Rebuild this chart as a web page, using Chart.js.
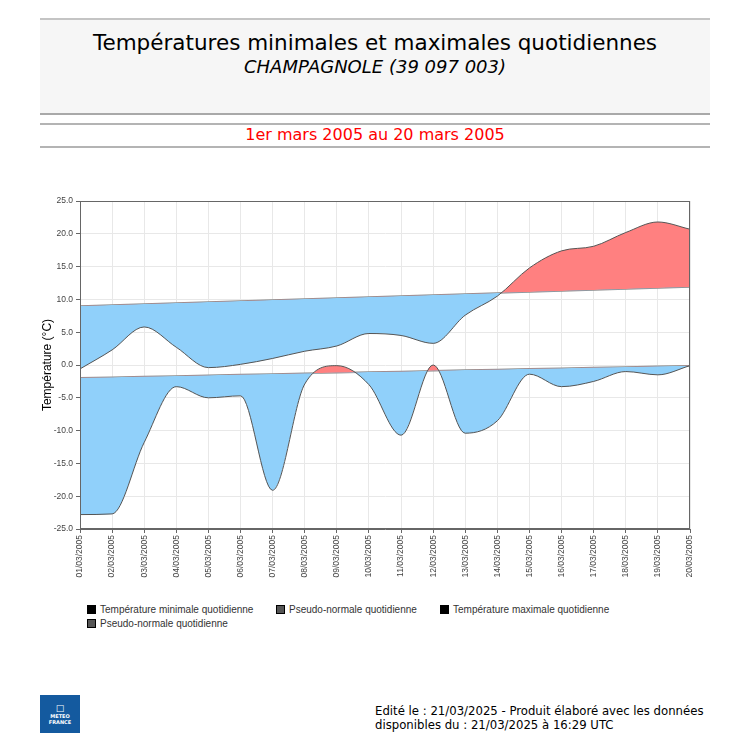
<!DOCTYPE html>
<html><head><meta charset="utf-8">
<script src="https://cdn.jsdelivr.net/npm/chart.js@4.4.1/dist/chart.umd.min.js"></script>
<style>
html,body{margin:0;padding:0;background:#fff;}
body{width:750px;height:750px;position:relative;overflow:hidden;font-family:"DejaVu Sans",sans-serif;}
.abs{position:absolute;}
#hdr{left:40px;top:18px;width:670px;height:93px;background:#f6f6f6;border-top:2px solid #c4c4c4;border-bottom:2px solid #a9a9a9;}
.line{left:40px;width:670px;height:0;border-top:2px solid #b4b4b4;}
.ctr{left:0;width:750px;text-align:center;white-space:nowrap;}
#t1{top:30px;font-size:21.5px;line-height:25px;color:#000;}
#t2{top:56px;font-size:18px;line-height:21px;font-style:italic;color:#000;}
#t3{top:125px;font-size:16px;line-height:19px;color:#ff0000;}
#wrap{left:0;top:190px;width:720px;height:400px;}
.leg{font-family:"Liberation Sans",Arial,sans-serif;font-size:10px;line-height:12px;color:#333;white-space:nowrap;}
.leg i{display:inline-block;width:7px;height:7px;border:1px solid #000;margin-right:4px;vertical-align:-1px;}
#foot{left:375px;top:704px;font-family:"DejaVu Sans Condensed","DejaVu Sans",sans-serif;font-stretch:condensed;font-size:13px;line-height:14px;color:#000;white-space:nowrap;}
#logo{left:40px;top:695px;width:40px;height:38px;background:#145a9f;color:#fff;font-family:"DejaVu Sans",sans-serif;font-weight:bold;font-size:5px;line-height:6px;text-align:center;}
</style>
</head><body>
<div id="hdr" class="abs"></div>
<div id="t1" class="abs ctr">Températures minimales et maximales quotidiennes</div>
<div id="t2" class="abs ctr">CHAMPAGNOLE (39 097 003)</div>
<div class="abs line" style="top:123px"></div>
<div id="t3" class="abs ctr">1er mars 2005 au 20 mars 2005</div>
<div class="abs line" style="top:146px"></div>
<div id="wrap" class="abs"><canvas id="c" width="720" height="400" style="width:720px;height:400px"></canvas></div>
<div class="abs leg" style="left:87px;top:604px"><i style="background:#000"></i>Température minimale quotidienne</div>
<div class="abs leg" style="left:276px;top:604px"><i style="background:#555"></i>Pseudo-normale quotidienne</div>
<div class="abs leg" style="left:440px;top:604px"><i style="background:#000"></i>Température maximale quotidienne</div>
<div class="abs leg" style="left:87px;top:618px"><i style="background:#555"></i>Pseudo-normale quotidienne</div>
<div id="logo" class="abs"><div style="height:9px"></div><div style="font-size:9px;line-height:9px">&#9633;</div>METEO<br>FRANCE</div>
<div id="foot" class="abs">Edité le : 21/03/2025 - Produit élaboré avec les données<br>disponibles du : 21/03/2025 à 16:29 UTC</div>
<script>
const categories = ['01/03/2005','02/03/2005','03/03/2005','04/03/2005','05/03/2005','06/03/2005','07/03/2005','08/03/2005','09/03/2005','10/03/2005','11/03/2005','12/03/2005','13/03/2005','14/03/2005','15/03/2005','16/03/2005','17/03/2005','18/03/2005','19/03/2005','20/03/2005'];
const tempMin = [-22.8,-22.7,-11.8,-3.3,-5.0,-4.7,-19.1,-2.9,-0.1,-3.0,-10.7,0.0,-10.4,-8.5,-1.4,-3.3,-2.5,-1.0,-1.5,-0.1];
const normMin = [-1.95,-1.85,-1.76,-1.66,-1.56,-1.46,-1.37,-1.27,-1.17,-1.08,-0.98,-0.88,-0.78,-0.69,-0.59,-0.49,-0.40,-0.30,-0.20,-0.10];
const tempMax = [-0.6,2.3,5.8,2.7,-0.4,0.1,1.0,2.1,2.9,4.8,4.5,3.3,7.6,10.5,14.8,17.4,18.1,20.2,21.8,20.7];
const normMax = [9.0,9.15,9.31,9.46,9.61,9.76,9.92,10.07,10.22,10.37,10.53,10.68,10.83,10.98,11.14,11.29,11.44,11.59,11.75,11.9];
const yTickValues = [-25,-20,-15,-10,-5,0,5,10,15,20,25];

const RED = 'rgb(255,128,128)';
const BLUE = 'rgb(144,208,250)';
const tickFont = {family:'"Liberation Sans", Arial, sans-serif', size:8.5};

const frame = {
  id:'frame',
  afterDatasetsDraw(c){
    const {ctx, chartArea:a} = c;
    ctx.save();
    ctx.strokeStyle = '#666';
    ctx.lineWidth = 1;
    ctx.strokeRect(Math.round(a.left)+0.5, Math.round(a.top)+0.5, Math.round(a.right-a.left)-1, Math.round(a.bottom-a.top)-1);
    ctx.restore();
  }
};

new Chart(document.getElementById('c'), {
  type:'line',
  data:{
    labels:categories,
    datasets:[
      {label:'Température minimale quotidienne', data:tempMin, borderColor:'#555', borderWidth:1, pointRadius:0, cubicInterpolationMode:'monotone', fill:{target:1, above:RED, below:BLUE}},
      {label:'Pseudo-normale quotidienne', data:normMin, borderColor:'#8c8c8c', borderWidth:1.5, pointRadius:0, fill:false},
      {label:'Température maximale quotidienne', data:tempMax, borderColor:'#555', borderWidth:1, pointRadius:0, cubicInterpolationMode:'monotone', fill:{target:3, above:RED, below:BLUE}},
      {label:'Pseudo-normale quotidienne', data:normMax, borderColor:'#8c8c8c', borderWidth:1.5, pointRadius:0, fill:false}
    ]
  },
  options:{
    responsive:false,
    animation:false,
    devicePixelRatio:1,
    layout:{padding:{top:11,right:30,left:0,bottom:0}},
    plugins:{legend:{display:false}, tooltip:{enabled:false}},
    scales:{
      x:{
        grid:{color:'#e8e8e8', tickColor:'#666', tickLength:4},
        border:{color:'#666'},
        ticks:{autoSkip:false, minRotation:90, maxRotation:90, font:tickFont, color:'#444', padding:2},
        afterFit(s){ s.height = 61; }
      },
      y:{
        min:-25, max:25,
        afterBuildTicks(s){ s.ticks = yTickValues.map(v => ({value:v})); },
        grid:{color:'#e8e8e8', tickColor:'#666', tickLength:4},
        border:{color:'#666'},
        ticks:{font:tickFont, color:'#444', padding:3, callback:v => Number(v).toFixed(1)},
        title:{display:true, text:'Température (°C)', font:{family:'"Liberation Sans", Arial, sans-serif', size:12}, color:'#000', padding:{top:40,bottom:0}},
        afterFit(s){ s.width = 80; }
      }
    }
  },
  plugins:[frame]
});
</script>
</body></html>
